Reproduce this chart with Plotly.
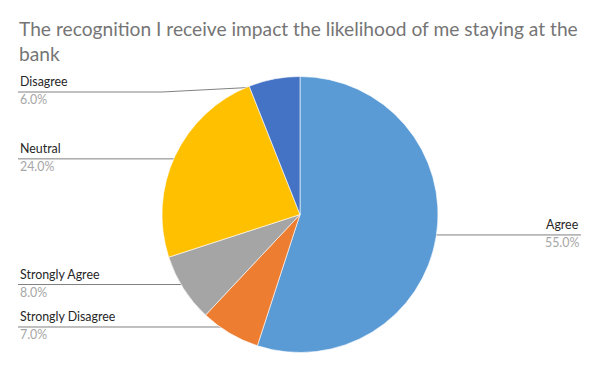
import math
import plotly.graph_objects as go

categories = ["Agree", "Strongly Disagree", "Strongly Agree", "Neutral", "Disagree"]
values = [55.0, 7.0, 8.0, 24.0, 6.0]
colors = ["#5B9BD5", "#ED7D31", "#A5A5A5", "#FFC000", "#4472C4"]
title_text = "The recognition I receive impact the likelihood of me staying at the<br>bank"

W, H = 600, 371
cx, cy, R = 300, 214.5, 138
dot_r = 0.947
left_x, right_x = 18, 581
min_line_y = 92

fig = go.Figure()
fig.add_trace(go.Pie(
    labels=categories, values=values, sort=False, direction="clockwise", rotation=0,
    marker=dict(colors=colors, line=dict(color="#FFFFFF", width=0.6)),
    textinfo="none", hoverinfo="label+percent", showlegend=False,
    domain=dict(x=[(cx - R) / W, (cx + R) / W], y=[1 - (cy + R) / H, 1 - (cy - R) / H]),
))

total = sum(values)
cum = 0.0
annotations = []
for cat, v in zip(categories, values):
    mid = (cum + v / 2) / total * 2 * math.pi
    cum += v
    dx, dy = math.sin(mid) * R * dot_r, -math.cos(mid) * R * dot_r
    px, py = cx + dx, cy + dy
    ly = max(py, min_line_y)
    if math.sin(mid) >= 0:
        kx = cx + R
        xs = [px, max(px, kx), right_x]
        tx, anchor = right_x, "right"
    else:
        kx = cx - R
        xs = [px, min(px, kx), left_x]
        tx, anchor = left_x, "left"
    fig.add_trace(go.Scatter(x=xs, y=[py, ly, ly], mode="lines",
                             line=dict(color="#808080", width=1), hoverinfo="skip", showlegend=False))
    fig.add_trace(go.Scatter(x=[px], y=[py], mode="markers",
                             marker=dict(color="#A0A0A0", size=5), hoverinfo="skip", showlegend=False))
    annotations.append(dict(x=tx, y=ly - 10.5, xref="x", yref="y", text=cat, showarrow=False,
                            xanchor=anchor, yanchor="middle",
                            font=dict(family="Lato", size=12.4, color="#262626")))
    annotations.append(dict(x=tx, y=ly + 7.5, xref="x", yref="y", text=f"{v / total * 100:.1f}%",
                            showarrow=False, xanchor=anchor, yanchor="middle",
                            font=dict(family="Lato", size=12.4, color="#A6A6A6")))

annotations.append(dict(x=17 / W, y=1 - 15 / H, xref="paper", yref="paper", text=title_text,
                        showarrow=False, xanchor="left", yanchor="top", align="left",
                        font=dict(family="Lato", size=19.2, color="#757575")))

fig.update_layout(
    width=W, height=H, margin=dict(l=0, r=0, t=0, b=0),
    paper_bgcolor="white", plot_bgcolor="rgba(0,0,0,0)",
    xaxis=dict(range=[0, W], domain=[0, 1], visible=False, fixedrange=True),
    yaxis=dict(range=[H, 0], domain=[0, 1], visible=False, fixedrange=True),
    annotations=annotations,
)
fig.write_html("out.html")
